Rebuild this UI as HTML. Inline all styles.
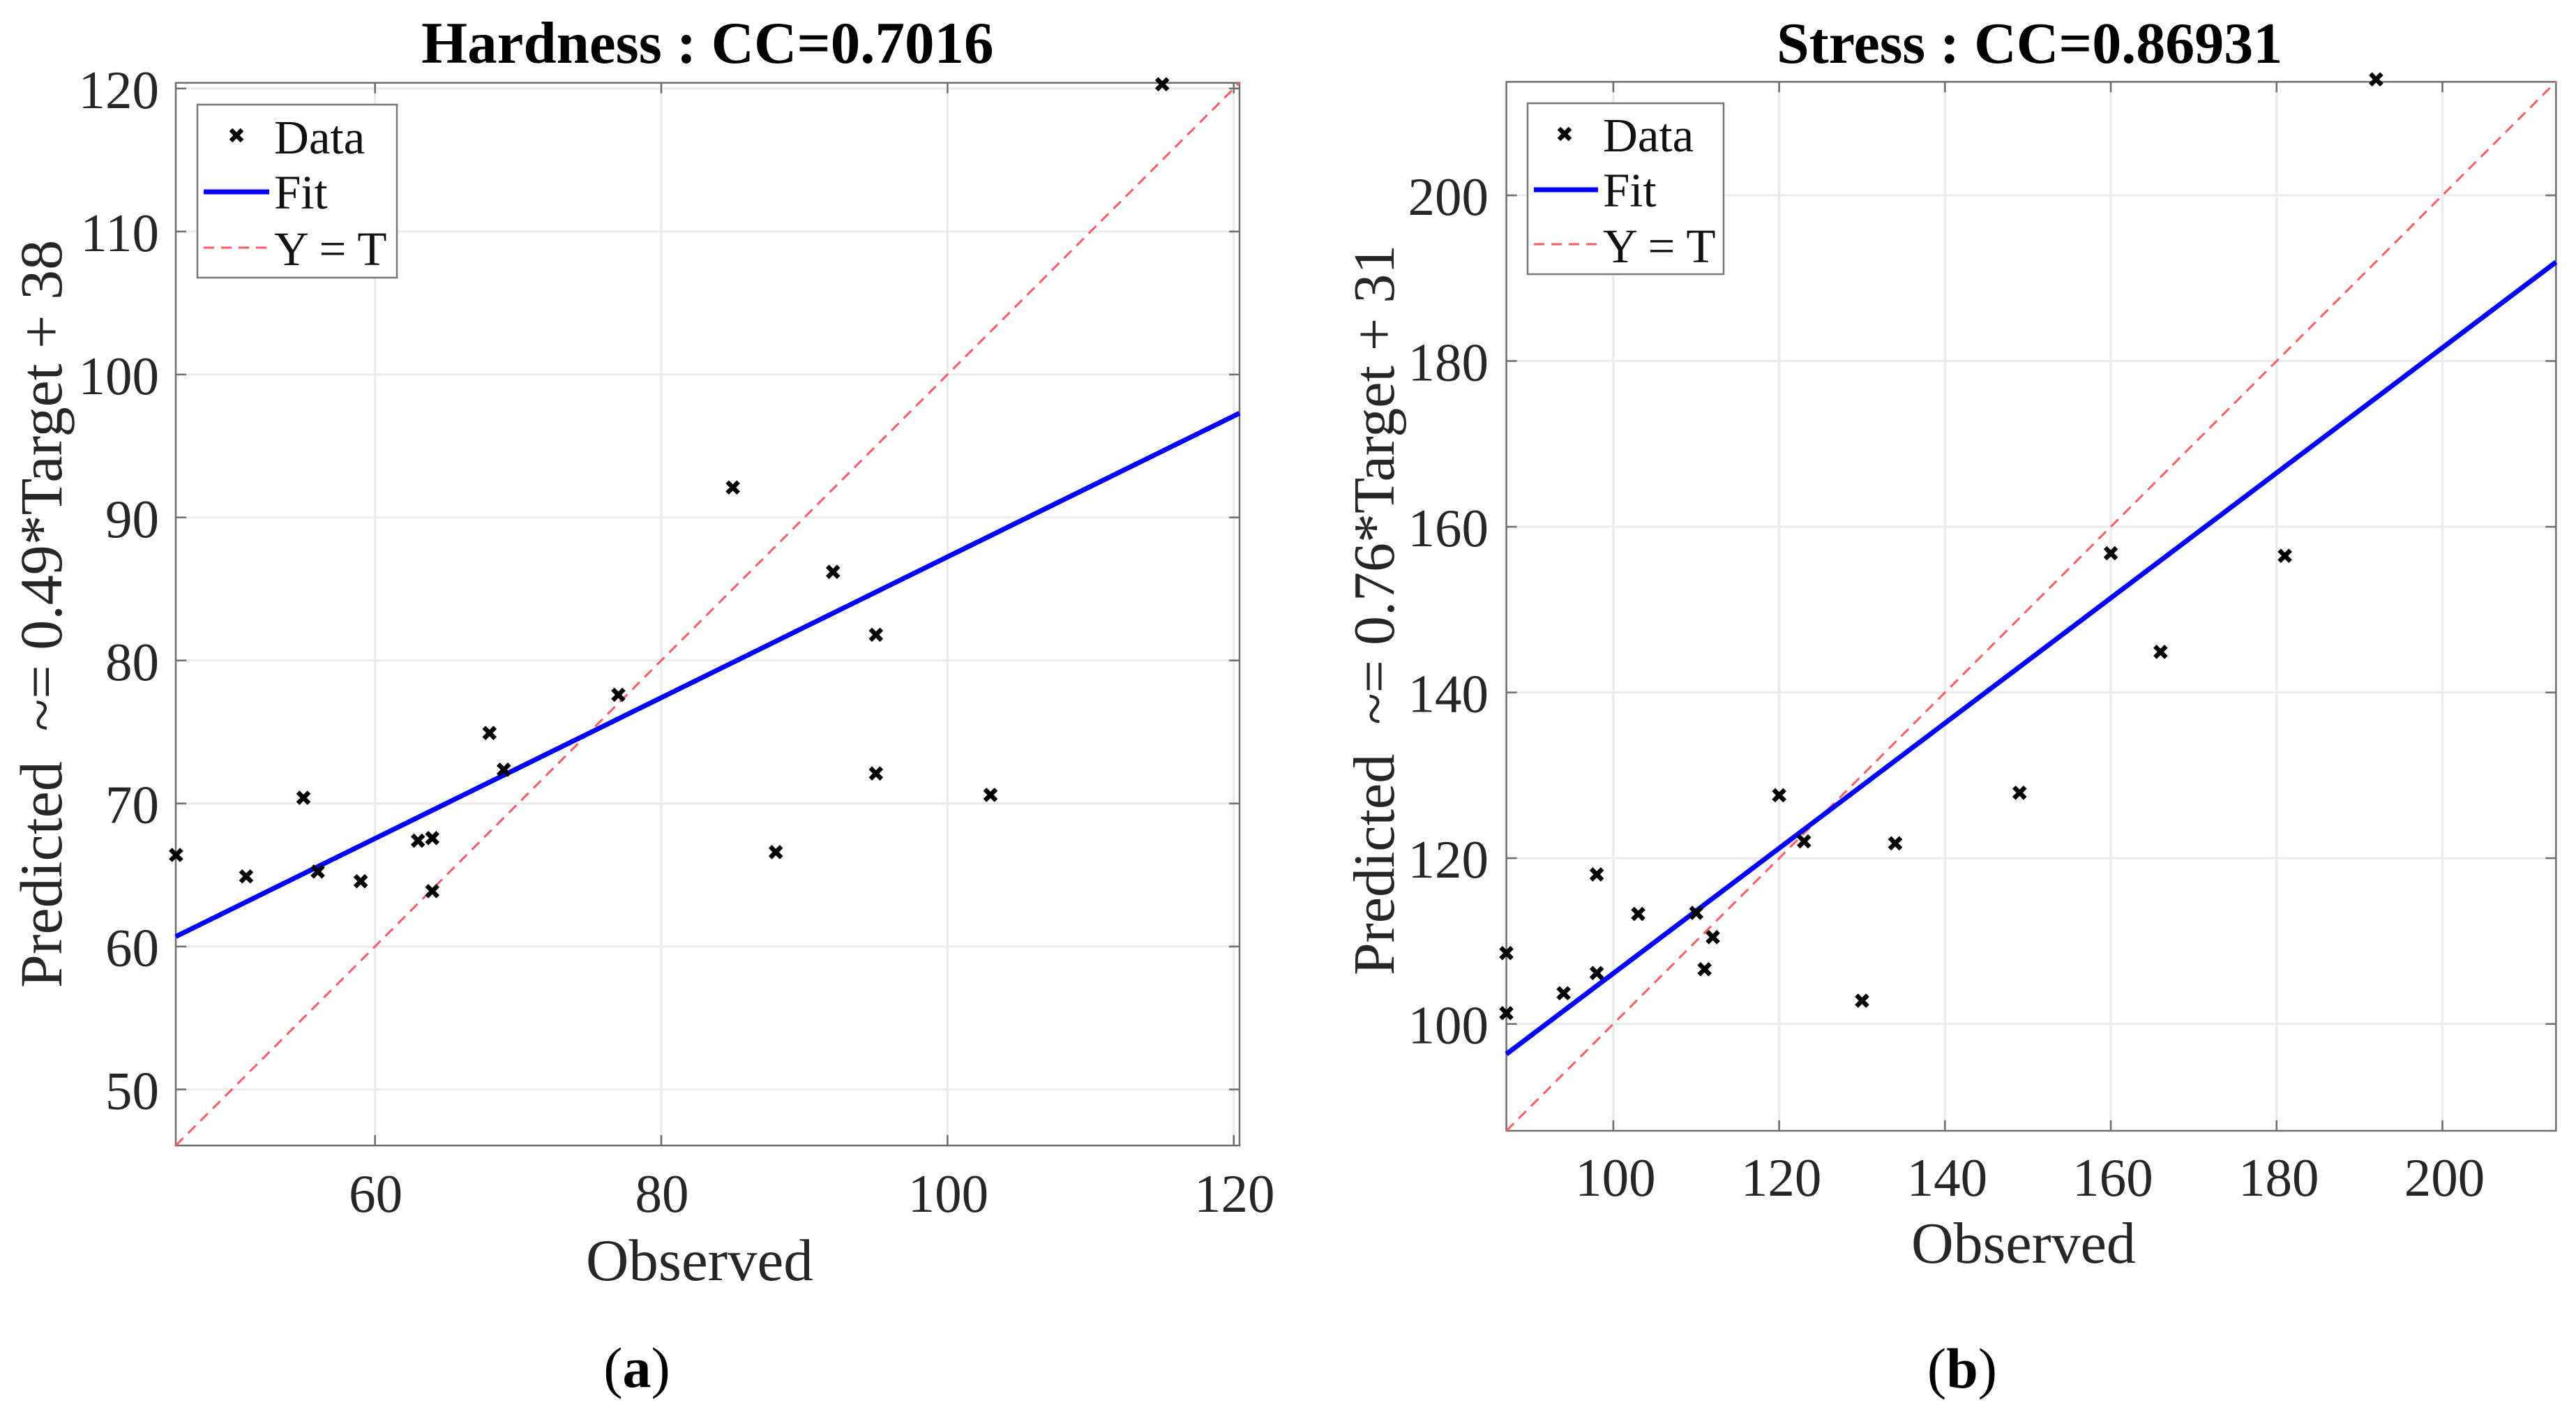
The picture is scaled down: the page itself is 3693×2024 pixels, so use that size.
<!DOCTYPE html>
<html lang="en">
<head>
<meta charset="utf-8">
<title>Hardness and Stress regression plots</title>
<style>
  html, body { margin: 0; padding: 0; background: #fff; }
  svg { display: block; font-family: "Liberation Serif", "Times New Roman", serif; }
  text { white-space: pre; }
  .tick { font-size: 77px; fill: #262626; }
  .label { font-size: 85px; fill: #262626; }
  .title { font-size: 85px; font-weight: bold; fill: #000; }
  .leg { font-size: 69px; fill: #111; }
  .cap { font-size: 82px; fill: #000; }
</style>
</head>
<body>
<svg id="figure" xmlns="http://www.w3.org/2000/svg" width="3693" height="2024" viewBox="0 0 3693 2024">
  <rect x="0" y="0" width="3693" height="2024" fill="#fff"/>

  <g id="panel-a">
    <g id="a-marks"></g>
    <text class="title" x="604" y="90">Hardness : CC=0.7016</text>
    <text class="label" style="font-size:86px" transform="translate(88,1416) rotate(-90)" x="0" y="0">Predicted  ~= 0.49*Target + 38</text>
    <text class="label" x="840" y="1835">Observed</text>
    <g>
      <rect x="283" y="150" width="286" height="248" fill="#fff" stroke="#777" stroke-width="2.5"/>
      <path d="M331 186L347 202M347 186L331 202" stroke="#000" stroke-width="6.5" fill="none"/>
      <text class="leg" x="393" y="220">Data</text>
      <line x1="292" y1="275" x2="386" y2="275" stroke="#0000ff" stroke-width="7"/>
      <text class="leg" x="393" y="299">Fit</text>
      <line x1="292" y1="355" x2="386" y2="355" stroke="#ff5a66" stroke-width="3" stroke-dasharray="15 10"/>
      <text class="leg" x="393" y="380">Y = T</text>
    </g>
    <text class="cap" x="913" y="1988" text-anchor="middle">(<tspan font-weight="bold">a</tspan>)</text>
  </g>

  <g id="panel-b">
    <g id="b-marks"></g>
    <text class="title" style="font-size:84px" x="2547" y="90">Stress : CC=0.86931</text>
    <text class="label" style="font-size:84px" transform="translate(1998,1398) rotate(-90)" x="0" y="0">Predicted  ~= 0.76*Target + 31</text>
    <text class="label" style="font-size:84px" x="2740" y="1810">Observed</text>
    <g>
      <rect x="2190" y="148" width="281" height="245" fill="#fff" stroke="#777" stroke-width="2.5"/>
      <path d="M2235 184L2251 200M2251 184L2235 200" stroke="#000" stroke-width="6.5" fill="none"/>
      <text class="leg" x="2298" y="217">Data</text>
      <line x1="2199" y1="272" x2="2291" y2="272" stroke="#0000ff" stroke-width="7"/>
      <text class="leg" x="2298" y="296">Fit</text>
      <line x1="2199" y1="350" x2="2291" y2="350" stroke="#ff5a66" stroke-width="3" stroke-dasharray="15 10"/>
      <text class="leg" x="2298" y="376">Y = T</text>
    </g>
    <text class="cap" x="2813" y="1989" text-anchor="middle">(<tspan font-weight="bold">b</tspan>)</text>
  </g>
</svg>

<script>
// ---- Hardness data ----
const hardnessObserved = [46.1, 51, 55, 56, 59, 63, 64, 64, 68, 69, 77, 85, 88, 92, 95, 95, 103, 115];
const hardnessPredicted = [66.4, 64.9, 70.4, 65.24, 64.56, 67.4, 67.58, 63.87, 74.93, 72.36, 77.6, 92.1, 66.6, 86.2, 81.8, 72.1, 70.6, 120.3];
const hardnessFitCoefficients = [0.4925, 38.0];
const hardnessLimits = [46.08, 120.4];
const hardnessXTicks = [60, 80, 100, 120];
const hardnessYTicks = [50, 60, 70, 80, 90, 100, 110, 120];

// ---- Stress data ----
const stressObserved = [87.1, 87.1, 94, 98, 98, 103, 110, 111, 112, 120, 123, 130, 134, 149, 160, 166, 181, 192];
const stressPredicted = [108.55, 101.3, 103.7, 118.04, 106.14, 113.27, 113.41, 106.6, 110.47, 127.6, 122.03, 102.8, 121.8, 127.9, 156.8, 144.9, 156.5, 214.0];
const stressFitCoefficients = [0.755, 30.6];
const stressLimits = [87.1, 213.7];
const stressXTicks = [100, 120, 140, 160, 180, 200];
const stressYTicks = [100, 120, 140, 160, 180, 200];

const SVG_NS = 'http://www.w3.org/2000/svg';

function svgEl(tag, attrs) {
  const el = document.createElementNS(SVG_NS, tag);
  for (const k in attrs) el.setAttribute(k, attrs[k]);
  return el;
}

function drawPanel(root, box, limits, xTicks, yTicks, observed, predicted, fit, tickOpts) {
  const sx = v => box.left + (v - limits[0]) / (limits[1] - limits[0]) * (box.right - box.left);
  const sy = v => box.bottom - (v - limits[0]) / (limits[1] - limits[0]) * (box.bottom - box.top);
  const TICK = 15;

  // Grid
  xTicks.forEach(t => {
    const grid = svgEl('line', { x1: sx(t), x2: sx(t), y1: box.top, y2: box.bottom, stroke: '#ebebeb', 'stroke-width': 3.5 });
    
    
    root.appendChild(grid);
  });
  yTicks.forEach(t => {
    const grid = svgEl('line', { x1: box.left, x2: box.right, y1: sy(t), y2: sy(t), stroke: '#ebebeb', 'stroke-width': 3 });
    
    
    root.appendChild(grid);
  });

  // Axes box
  const frame = svgEl('rect', { x: box.left, y: box.top, width: box.right - box.left, height: box.bottom - box.top, fill: 'none', stroke: '#6e6e6e', 'stroke-width': 2.5 });
  
  
  root.appendChild(frame);

  // Ticks and tick labels
  xTicks.forEach(t => {
    const tickMarks = svgEl('path', {
      d: 'M' + sx(t) + ' ' + box.bottom + 'v' + (-TICK) + 'M' + sx(t) + ' ' + box.top + 'v' + TICK,
      stroke: '#6e6e6e', 'stroke-width': 2.5, fill: 'none'
    });
    
    
    root.appendChild(tickMarks);

    const label = svgEl('text', { class: 'tick', x: sx(t) + tickOpts.xLabelShift, y: tickOpts.xLabelBaseline, 'text-anchor': 'middle' });
    label.textContent = String(t);
    
    
    root.appendChild(label);
  });
  yTicks.forEach(t => {
    const tickMarks = svgEl('path', {
      d: 'M' + box.left + ' ' + sy(t) + 'h' + TICK + 'M' + box.right + ' ' + sy(t) + 'h' + (-TICK),
      stroke: '#6e6e6e', 'stroke-width': 2.5, fill: 'none'
    });
    
    
    root.appendChild(tickMarks);

    const label = svgEl('text', { class: 'tick', x: tickOpts.yLabelRight, y: sy(t) + 28, 'text-anchor': 'end' });
    label.textContent = String(t);
    
    
    root.appendChild(label);
  });

  // Identity line Y = T
  const identity = svgEl('line', {
    x1: sx(limits[0]), y1: sy(limits[0]), x2: sx(limits[1]), y2: sy(limits[1]),
    stroke: '#ff5a66', 'stroke-width': 3, 'stroke-dasharray': '15 10'
  });
  
  
  root.appendChild(identity);

  // Fit line
  const fitAt = v => fit[0] * v + fit[1];
  const fitLine = svgEl('line', {
    x1: sx(limits[0]), y1: sy(fitAt(limits[0])), x2: sx(limits[1]), y2: sy(fitAt(limits[1])),
    stroke: '#0000ff', 'stroke-width': 7
  });
  
  
  root.appendChild(fitLine);

  // Data markers
  const ARM = 8;
  observed.forEach((v, i) => {
    const cx = sx(v), cy = sy(predicted[i]);
    const marker = svgEl('path', {
      d: 'M' + (cx - ARM) + ' ' + (cy - ARM) + 'L' + (cx + ARM) + ' ' + (cy + ARM) +
         'M' + (cx + ARM) + ' ' + (cy - ARM) + 'L' + (cx - ARM) + ' ' + (cy + ARM),
      stroke: '#000', 'stroke-width': 6.5, fill: 'none'
    });
    
    
    root.appendChild(marker);
  });
}

drawPanel(
  document.getElementById('a-marks'),
  { left: 252, right: 1777, top: 118.7, bottom: 1642 },
  hardnessLimits, hardnessXTicks, hardnessYTicks,
  hardnessObserved, hardnessPredicted, hardnessFitCoefficients,
  { xLabelShift: 1, xLabelBaseline: 1737, yLabelRight: 228 }
);
drawPanel(
  document.getElementById('b-marks'),
  { left: 2159.6, right: 3664.3, top: 117.3, bottom: 1620.9 },
  stressLimits, stressXTicks, stressYTicks,
  stressObserved, stressPredicted, stressFitCoefficients,
  { xLabelShift: 3, xLabelBaseline: 1714, yLabelRight: 2134 }
);
</script>
</body>
</html>
